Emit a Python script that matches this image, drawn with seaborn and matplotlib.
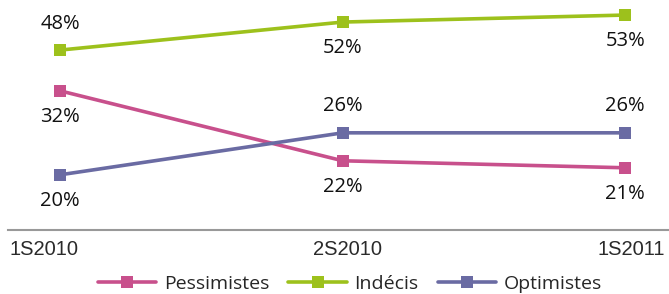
import pandas as pd
import seaborn as sns
import matplotlib.pyplot as plt
from matplotlib.transforms import ScaledTranslation

# Data
periods = ['1S2010', '2S2010', '1S2011']
pessimistes = [32, 22, 21]
indecis = [48, 52, 53]
optimistes = [20, 26, 26]

colors = {'Pessimistes': '#C8508C', 'Indécis': '#9DC11C', 'Optimistes': '#6A6BA3'}

sns.set_style('white')
plt.rcParams['font.family'] = ['Open Sans', 'DejaVu Sans']

df = pd.DataFrame({'x': range(len(periods)), 'Pessimistes': pessimistes,
                   'Indécis': indecis, 'Optimistes': optimistes})

fig = plt.figure(figsize=(6.69, 2.94), dpi=100)
ax = fig.add_axes([8 / 669, 1 - 230 / 294, 661 / 669, 230 / 294])
ax2 = ax.twinx()

line_kw = dict(lw=2.6, marker='s', markersize=9, markeredgewidth=0)
sns.lineplot(data=df, x='x', y='Pessimistes', ax=ax, color=colors['Pessimistes'], **line_kw)
sns.lineplot(data=df, x='x', y='Optimistes', ax=ax, color=colors['Optimistes'], **line_kw)
sns.lineplot(data=df, x='x', y='Indécis', ax=ax2, color=colors['Indécis'], **line_kw)

ax.set_xlim(-0.185, 2.155)
ax.set_ylim(12.1, 45)
ax2.set_ylim(22.3, 55.15)

# data labels: +1 above, -1 below
def label(axis, values, sides):
    for i, (v, s) in enumerate(zip(values, sides)):
        axis.annotate(f'{v}%', (i, v), xytext=(0, 19 * s), textcoords='offset points',
                      ha='center', va='center', fontsize=14.5, color='#111111')

label(ax, pessimistes, [-1, -1, -1])
label(ax, optimistes, [-1, 1, 1])
label(ax2, indecis, [1, -1, -1])

ax.set_xticks(range(len(periods)))
ax.set_xticklabels(periods, fontsize=14.5, color='#2a2a2a', family=['Liberation Sans', 'DejaVu Sans'])
ax.tick_params(axis='x', length=0, pad=7)
# nudge tick labels like the original (first one pushed to the left edge)
for lab, dx in zip(ax.get_xticklabels(), [-16, 5, 6]):
    lab.set_transform(lab.get_transform() + ScaledTranslation(dx / 100, 0, fig.dpi_scale_trans))
ax.set_yticks([])
ax2.set_yticks([])
ax.set_xlabel('')
ax.set_ylabel('')
ax2.set_ylabel('')
for a in (ax, ax2):
    for side in ['top', 'left', 'right', 'bottom']:
        a.spines[side].set_visible(False)
ax.spines['bottom'].set_visible(True)
ax.spines['bottom'].set_color('#999999')
ax.spines['bottom'].set_linewidth(1.5)

handles = [plt.Line2D([], [], color=colors[k], **line_kw) for k in colors]
fig.legend(handles, list(colors.keys()), loc='center', bbox_to_anchor=(350 / 669, 1 - 284 / 294),
           ncol=3, frameon=False, fontsize=14, handlelength=3.0, columnspacing=1.0,
           handletextpad=0.4, borderpad=0)

fig.savefig('out.png', dpi=100)
